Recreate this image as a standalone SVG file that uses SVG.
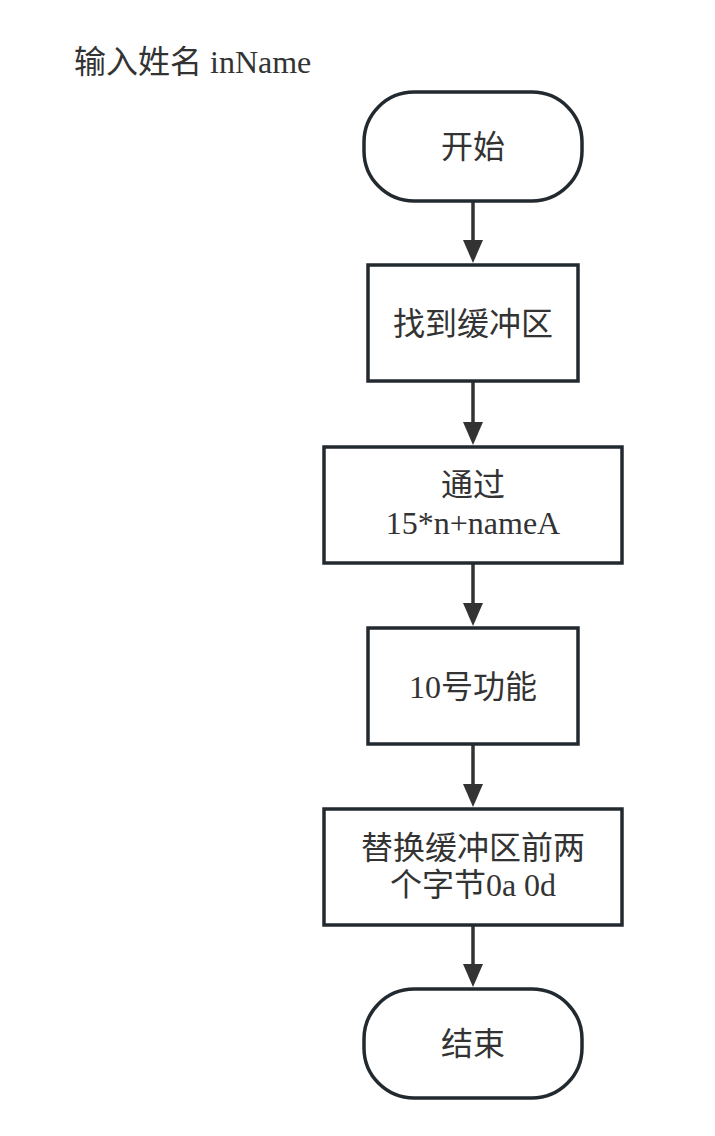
<svg xmlns="http://www.w3.org/2000/svg" width="715" height="1136" viewBox="0 0 715 1136">
<style>
.n{fill:#fff;stroke:#222a30;stroke-width:3.5}
.t{font-family:"Liberation Serif","Noto Sans CJK SC",serif;font-size:32px;fill:#333;text-anchor:middle}
.c{stroke:#333;stroke-width:3.5;fill:none}
</style>
<defs>
<marker id="ah" viewBox="0 0 20 22" refX="10" refY="22" markerWidth="20" markerHeight="22" markerUnits="userSpaceOnUse" orient="auto-start-reverse">
<path d="M0,0 L20,0 L10,22 Z" fill="#333"/>
</marker>
</defs>
<rect width="715" height="1136" fill="#fff"/>
<text x="74" y="73" style="font-family:'Liberation Serif','Noto Sans CJK SC',serif;font-size:32px;fill:#333">输入姓名 inName</text>
<g id="connectors">
<line class="c" x1="473" y1="202" x2="473" y2="240"/>
<path d="M463,240 L483,240 L473,263 Z" fill="#333"/>
<line class="c" x1="473" y1="382" x2="473" y2="422"/>
<path d="M463,422 L483,422 L473,445 Z" fill="#333"/>
<line class="c" x1="473" y1="564" x2="473" y2="603"/>
<path d="M463,603 L483,603 L473,626 Z" fill="#333"/>
<line class="c" x1="473" y1="745" x2="473" y2="784"/>
<path d="M463,784 L483,784 L473,807 Z" fill="#333"/>
<line class="c" x1="473" y1="926" x2="473" y2="964"/>
<path d="M463,964 L483,964 L473,987 Z" fill="#333"/>
</g>
<g id="start">
<rect class="n" x="364" y="92" width="218" height="109" rx="50" ry="50"/>
<text class="t" x="473" y="158">开始</text>
</g>
<g id="find">
<rect class="n" x="368" y="265" width="210" height="116"/>
<text class="t" x="473" y="335">找到缓冲区</text>
</g>
<g id="calc">
<rect class="n" x="324" y="447" width="298" height="116"/>
<text class="t" x="473" y="496">通过</text>
<text class="t" x="473" y="534">15*n+nameA</text>
</g>
<g id="func10">
<rect class="n" x="368" y="628" width="210" height="116"/>
<text class="t" x="473" y="698">10号功能</text>
</g>
<g id="replace">
<rect class="n" x="324" y="809" width="298" height="116"/>
<text class="t" x="473" y="859">替换缓冲区前两</text>
<text class="t" x="473" y="896">个字节0a 0d</text>
</g>
<g id="end">
<rect class="n" x="364" y="989" width="218" height="109" rx="50" ry="50"/>
<text class="t" x="473" y="1055">结束</text>
</g>
</svg>
